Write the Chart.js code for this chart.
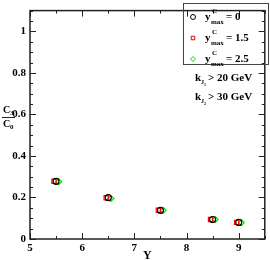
<!DOCTYPE html>
<html>
<head>
<meta charset="utf-8">
<script src="https://cdn.jsdelivr.net/npm/chart.js@4"></script>
<style>
  html, body { margin: 0; padding: 0; background: #fff; }
  #wrap { width: 270px; height: 260px; }
</style>
</head>
<body>
<div id="wrap"><canvas id="myChart" width="270" height="260"></canvas></div>
<script>
// rapidity values for each series (slightly shifted so they don't overlap)
const yBlack = [5.50, 6.50, 7.50, 8.50, 9.00];
const yRed   = [5.46, 6.46, 7.46, 8.46, 8.96];
const yGreen = [5.55, 6.55, 7.55, 8.55, 9.05];

// C3/C0
const ratioBlack = [0.278, 0.199, 0.138, 0.094, 0.080];
const ratioRed   = [0.278, 0.199, 0.138, 0.094, 0.080];
const ratioGreen = [0.276, 0.195, 0.138, 0.094, 0.079];

const seriesNames = ['0', '1.5', '2.5'];
const xTicks = [5, 6, 7, 8, 9];
const yTicks = [0, 0.2, 0.4, 0.6, 0.8, 1];

const serif = '"Liberation Serif", "DejaVu Serif", serif';

const pts = (xs, ys) => xs.map((x, i) => ({ x: x, y: ys[i] }));

// draws the box, inward ticks, axis titles, legend and cut labels
const decor = {
  id: 'decor',
  afterDraw(chart) {
    const c = chart.ctx;
    const a = chart.chartArea;
    const xs = chart.scales.x, ys = chart.scales.y;
    c.save();
    c.strokeStyle = '#222';
    c.lineWidth = 1.5;
    c.strokeRect(a.left, a.top, a.right - a.left, a.bottom - a.top);

    c.lineWidth = 1;
    // x ticks every 0.5 (major 1)
    for (let v = 5; v <= 9.5001; v += 0.5) {
      const px = Math.round(xs.getPixelForValue(v)) + 0.5;
      const len = Math.abs(v - Math.round(v)) < 1e-6 ? 6 : 3;
      c.beginPath();
      c.moveTo(px, a.bottom); c.lineTo(px, a.bottom - len);
      c.moveTo(px, a.top); c.lineTo(px, a.top + len);
      c.stroke();
    }
    // y ticks every 0.05 (major 0.2)
    for (let i = 0; i <= 22; i++) {
      const v = i * 0.05;
      const py = Math.round(ys.getPixelForValue(v)) + 0.5;
      const len = i % 4 === 0 ? 6 : 3;
      c.beginPath();
      c.moveTo(a.left, py); c.lineTo(a.left + len, py);
      c.moveTo(a.right, py); c.lineTo(a.right - len, py);
      c.stroke();
    }

    c.fillStyle = '#000';
    // x title
    c.font = 'bold 12px ' + serif;
    c.textAlign = 'center';
    c.textBaseline = 'alphabetic';
    c.fillText('Y', (a.left + a.right) / 2, 259);

    // y title as fraction C3 / C0
    c.textAlign = 'left';
    c.font = 'bold 10px ' + serif;
    c.fillText('C', 3, 113);
    c.fillText('C', 3, 127);
    c.font = 'bold 7px ' + serif;
    c.fillText('3', 10, 115);
    c.fillText('0', 10, 129);
    c.lineWidth = 1;
    c.beginPath();
    c.moveTo(2, 117.5); c.lineTo(15, 117.5);
    c.stroke();

    // legend box
    const lx = 183, ly = 3, lw = 85, lh = 61;
    c.strokeStyle = '#444';
    c.lineWidth = 1;
    c.strokeRect(lx + 0.5, ly + 0.5, lw, lh);
    const colors = ['#000', '#e00000', '#00e000'];
    const styles = ['circle', 'rect', 'rectRot'];
    for (let i = 0; i < 3; i++) {
      const cy = ly + 14 + i * 21;
      c.strokeStyle = colors[i];
      c.fillStyle = 'rgba(0,0,0,0)';
      c.lineWidth = 1;
      Chart.helpers.drawPoint(c, { pointStyle: styles[i], radius: 2.5, borderWidth: 1 }, lx + 10, cy);
      c.fillStyle = '#000';
      c.textAlign = 'left';
      c.font = 'bold 11px ' + serif;
      c.fillText('y', lx + 22, cy + 3);
      c.font = 'bold 7px ' + serif;
      c.fillText('C', lx + 29, cy - 4);
      c.fillText('max', lx + 28, cy + 7);
      c.font = 'bold 11px ' + serif;
      c.fillText('= ' + seriesNames[i], lx + 43, cy + 3);
    }

    // cuts
    const cuts = [['1', '20'], ['2', '30']];
    cuts.forEach((k, i) => {
      const ty = 81 + i * 19;
      c.font = 'bold 11px ' + serif;
      c.fillText('k', 195, ty);
      c.font = 'bold 6px ' + serif;
      c.fillText('J', 201, ty + 3);
      c.font = 'bold 4px ' + serif;
      c.fillText(k[0], 204, ty + 5);
      c.font = 'bold 11px ' + serif;
      c.fillText('> ' + k[1] + ' GeV', 208, ty);
    });
    c.restore();
  }
};

const ctx = document.getElementById('myChart').getContext('2d');
const myChart = new Chart(ctx, {
  type: 'scatter',
  data: {
    datasets: [
      {
        label: 'y max C = 0',
        data: pts(yBlack, ratioBlack),
        pointStyle: 'circle',
        pointRadius: 3,
        borderColor: '#000',
        backgroundColor: 'rgba(0,0,0,0)',
        borderWidth: 1.2
      },
      {
        label: 'y max C = 1.5',
        data: pts(yRed, ratioRed),
        pointStyle: 'rect',
        pointRadius: 3,
        borderColor: '#ff0000',
        backgroundColor: 'rgba(0,0,0,0)',
        borderWidth: 1.2
      },
      {
        label: 'y max C = 2.5',
        data: pts(yGreen, ratioGreen),
        pointStyle: 'rectRot',
        pointRadius: 3,
        borderColor: '#00e000',
        backgroundColor: 'rgba(0,0,0,0)',
        borderWidth: 1.2
      }
    ]
  },
  options: {
    responsive: false,
    animation: false,
    layout: { padding: { top: 1, right: 1, left: 0, bottom: 0 } },
    plugins: { legend: { display: false }, tooltip: { enabled: false } },
    scales: {
      x: {
        type: 'linear',
        min: 5, max: 9.5,
        grid: { display: false, drawTicks: false },
        border: { display: false },
        afterFit: s => { s.height = 21; },
        afterBuildTicks: s => { s.ticks = xTicks.map(v => ({ value: v })); },
        ticks: {
          color: '#000',
          padding: 3,
          font: { family: serif, size: 11, weight: 'bold' }
        }
      },
      y: {
        type: 'linear',
        min: 0, max: 1.1,
        grid: { display: false, drawTicks: false },
        border: { display: false },
        afterFit: s => { s.width = 30; },
        afterBuildTicks: s => { s.ticks = yTicks.map(v => ({ value: v })); },
        ticks: {
          color: '#000',
          padding: 4,
          font: { family: serif, size: 11, weight: 'bold' },
          callback: v => String(v)
        }
      }
    }
  },
  plugins: [decor]
});
</script>
</body>
</html>
